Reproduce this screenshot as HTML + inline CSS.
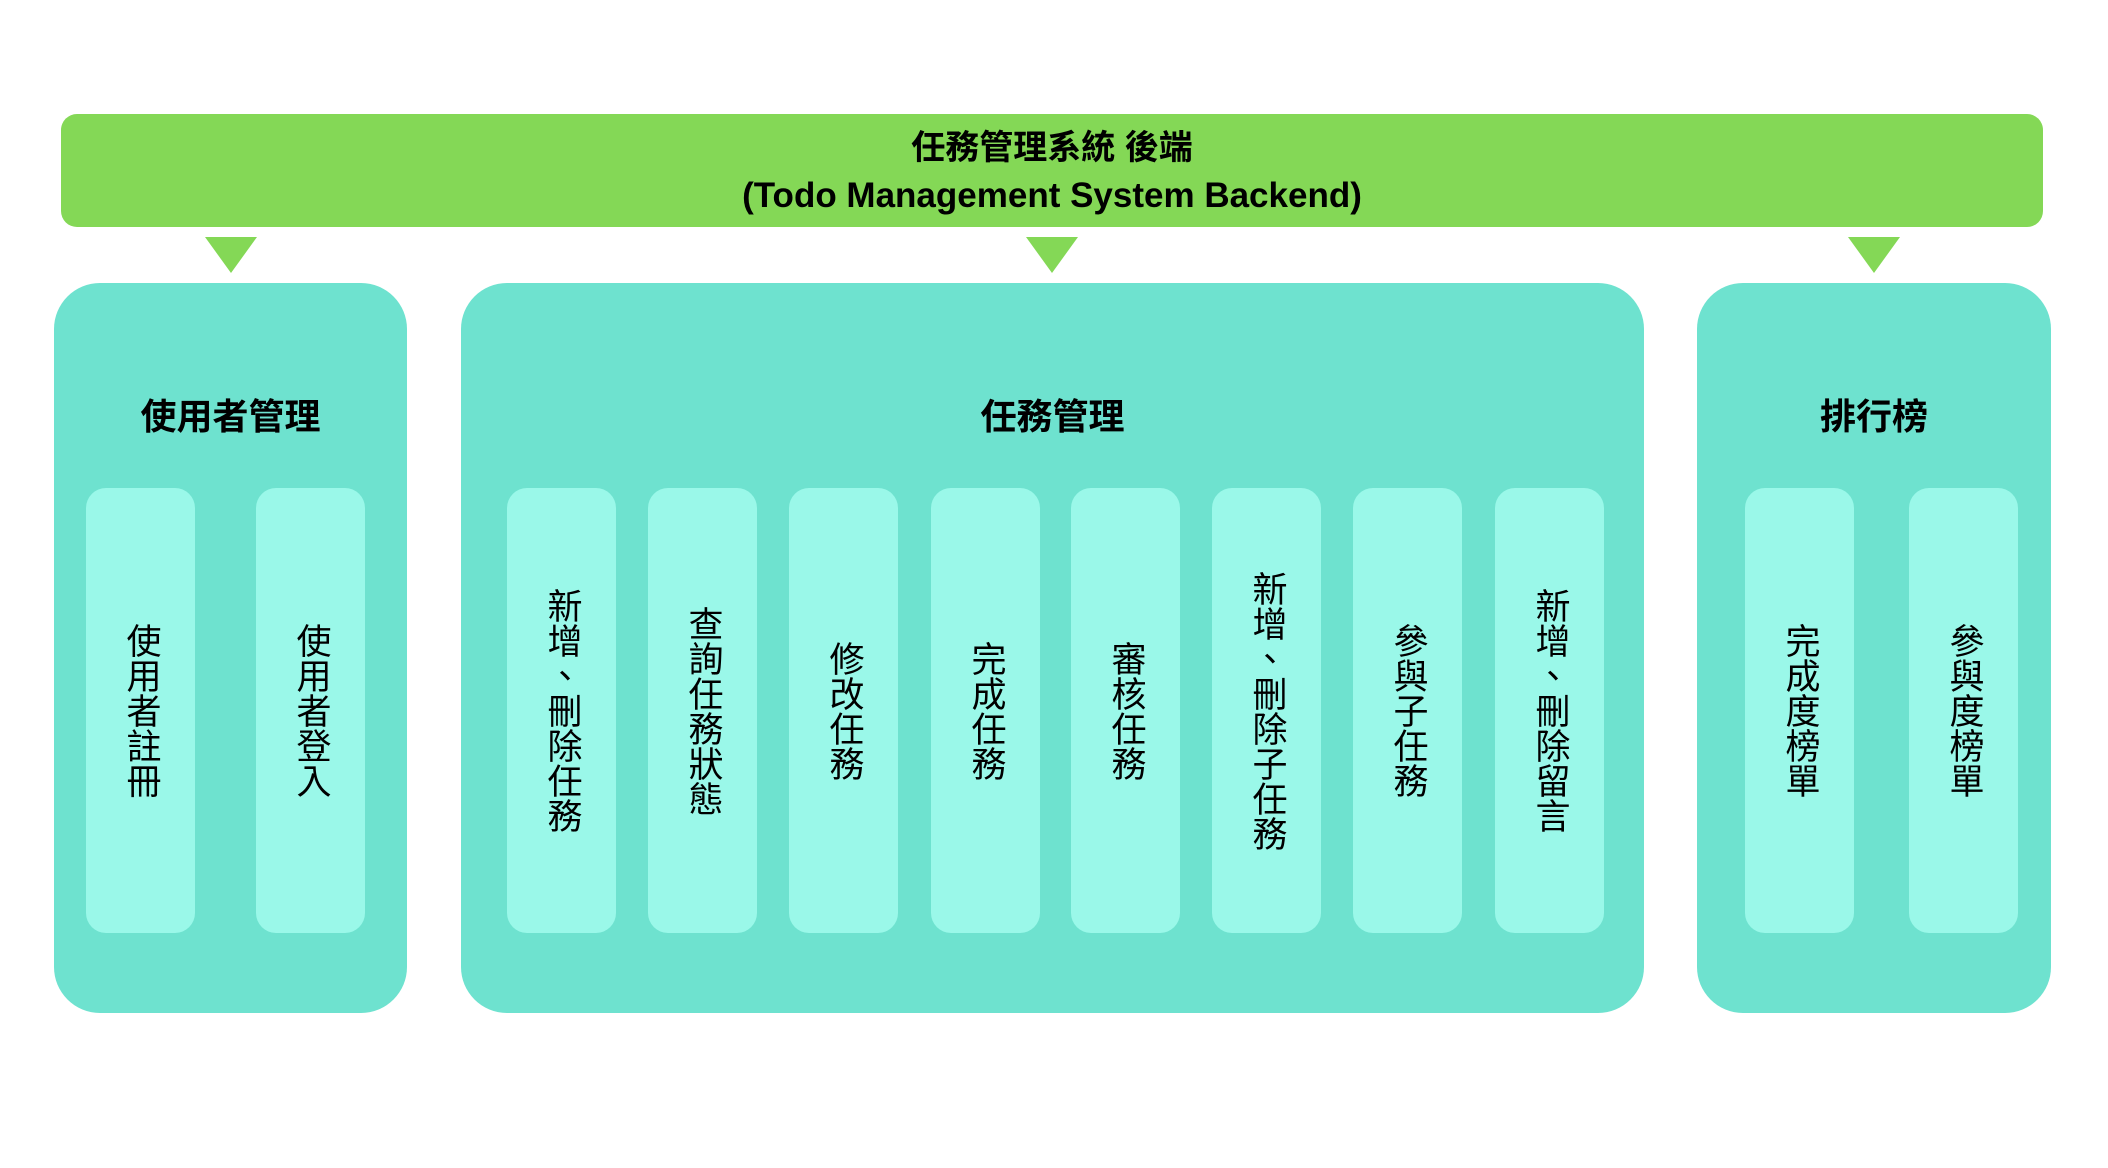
<!DOCTYPE html>
<html><head><meta charset="utf-8"><style>
html,body{margin:0;padding:0;background:#fff;}
body{width:2108px;height:1168px;position:relative;overflow:hidden;font-family:"Liberation Sans","Noto Sans CJK TC",sans-serif;}
.bar{position:absolute;left:61px;top:114px;width:1982px;height:113px;background:#84D856;border-radius:16px;text-align:center;font-weight:bold;color:#000;}
.tri{position:absolute;top:237px;width:0;height:0;border-left:26px solid transparent;border-right:26px solid transparent;border-top:36px solid #84D856;}
.panel{position:absolute;top:283px;height:730px;background:#6EE2CF;border-radius:46px;}
.title{position:absolute;top:396px;font-size:36px;font-weight:bold;text-align:center;line-height:42px;}
.card{position:absolute;top:488px;width:109px;height:445px;background:#9AF8E9;border-radius:20px;display:flex;align-items:center;justify-content:center;}
.card span{writing-mode:vertical-rl;font-size:35px;line-height:40px;letter-spacing:0;color:#000;}
</style></head><body>
<div class="bar">
 <div style="position:absolute;left:0;right:0;top:14px;font-size:34px;line-height:40px;">任務管理系統 後端</div>
 <div style="position:absolute;left:0;right:0;top:62px;font-size:35px;line-height:40px;">(Todo Management System Backend)</div>
</div>
<div class="tri" style="left:205px"></div>
<div class="tri" style="left:1026px"></div>
<div class="tri" style="left:1848px"></div>

<div class="panel" style="left:54px;width:353px"></div>
<div class="panel" style="left:461px;width:1183px"></div>
<div class="panel" style="left:1697px;width:354px"></div>

<div class="title" style="left:54px;width:353px">使用者管理</div>
<div class="title" style="left:461px;width:1183px">任務管理</div>
<div class="title" style="left:1697px;width:354px">排行榜</div>

<div class="card" style="left:86px"><span>使用者註冊</span></div>
<div class="card" style="left:256px"><span>使用者登入</span></div>

<div class="card" style="left:507px"><span>新增、刪除任務</span></div>
<div class="card" style="left:648px"><span>查詢任務狀態</span></div>
<div class="card" style="left:789px"><span>修改任務</span></div>
<div class="card" style="left:931px"><span>完成任務</span></div>
<div class="card" style="left:1071px"><span>審核任務</span></div>
<div class="card" style="left:1212px"><span>新增、刪除子任務</span></div>
<div class="card" style="left:1353px"><span>參與子任務</span></div>
<div class="card" style="left:1495px"><span>新增、刪除留言</span></div>

<div class="card" style="left:1745px"><span>完成度榜單</span></div>
<div class="card" style="left:1909px"><span>參與度榜單</span></div>
</body></html>
